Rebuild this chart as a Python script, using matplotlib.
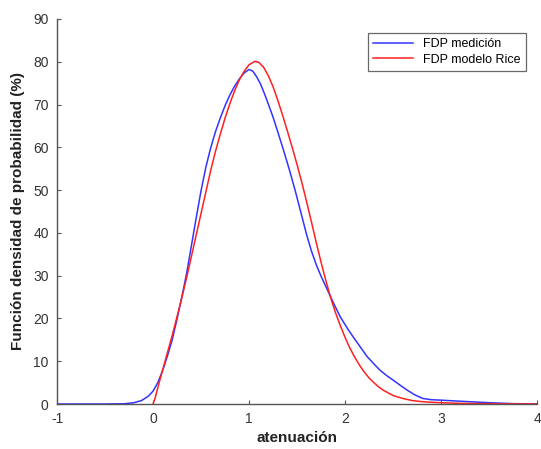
import matplotlib.pyplot as plt

plt.rcParams['font.family'] = ['Liberation Sans', 'DejaVu Sans']
plt.rcParams['axes.unicode_minus'] = False

# curva medida (lectura aproximada de la figura)
x_med = [-1.0, -0.5, -0.3, -0.2, -0.12, -0.05, 0.0, 0.05, 0.1, 0.15, 0.2, 0.25,
         0.3, 0.35, 0.4, 0.45, 0.5, 0.55, 0.6, 0.65, 0.7, 0.75, 0.8, 0.85, 0.9,
         0.95, 1.0, 1.04, 1.08, 1.12, 1.16, 1.2, 1.25, 1.3, 1.36, 1.42, 1.48,
         1.54, 1.6, 1.65, 1.7, 1.75, 1.81, 1.88, 1.95, 2.03, 2.1, 2.17, 2.23,
         2.3, 2.36, 2.43, 2.5, 2.58, 2.65, 2.73, 2.81, 2.9, 3.0, 3.2, 3.5, 3.75, 4.0]
y_med = [0, 0, 0.05, 0.3, 0.8, 1.8, 3.0, 5.0, 7.8, 11.2, 15.0, 19.8,
         25.0, 30.5, 37.0, 43.5, 49.8, 55.3, 59.8, 63.6, 66.8, 69.7, 72.2, 74.3, 76.0,
         77.4, 78.2, 77.8, 76.5, 74.8, 72.6, 70.2, 67.1, 63.6, 59.3, 54.8, 50.0,
         44.8, 39.6, 35.8, 32.6, 29.9, 27.0, 23.6, 20.4, 17.5, 15.2, 13.0, 11.1,
         9.4, 8.0, 6.7, 5.6, 4.3, 3.2, 2.1, 1.3, 1.0, 0.9, 0.65, 0.3, 0.08, 0]

# modelo Rice
x_rice = [0.0, 0.02, 0.05, 0.08, 0.11, 0.15, 0.2, 0.25, 0.3, 0.35, 0.4, 0.45,
          0.5, 0.55, 0.6, 0.65, 0.7, 0.75, 0.8, 0.85, 0.9, 0.95, 1.0, 1.06, 1.1,
          1.15, 1.2, 1.25, 1.3, 1.35, 1.4, 1.45, 1.5, 1.55, 1.6, 1.65, 1.7, 1.75,
          1.8, 1.85, 1.9, 1.95, 2.0, 2.05, 2.1, 2.15, 2.2, 2.25, 2.3, 2.35, 2.4,
          2.5, 2.6, 2.7, 2.8, 2.9, 3.0, 3.2, 3.5, 4.0]
y_rice = [0, 1.2, 3.8, 6.3, 8.7, 12.0, 16.0, 20.4, 24.8, 29.5, 34.5, 39.5,
          44.5, 49.5, 54.5, 59.0, 63.0, 66.8, 70.2, 73.2, 75.8, 77.8, 79.3, 80.1, 79.9,
          78.8, 76.8, 74.2, 71.0, 67.5, 63.8, 60.0, 56.0, 51.8, 47.3, 42.6, 37.8, 33.2,
          28.9, 24.9, 21.4, 18.4, 15.6, 13.1, 11.0, 9.1, 7.5, 6.1, 5.0, 4.0, 3.2,
          2.0, 1.3, 0.8, 0.55, 0.4, 0.3, 0.15, 0.05, 0]

xticks = [-1, 0, 1, 2, 3, 4]
yticks = list(range(0, 91, 10))

fig = plt.figure(figsize=(5.41, 4.49), dpi=100)
ax = fig.add_axes([57 / 541, 45 / 449, (537 - 57) / 541, (404 - 19) / 449])

ax.plot(x_med, y_med, color='#3333ff', lw=1.1, label='FDP medición')
ax.plot(x_rice, y_rice, color='#ff2020', lw=1.1, label='FDP modelo Rice')

ax.set_xlim(-1, 4)
ax.set_ylim(0, 90)
ax.set_xticks(xticks)
ax.set_yticks(yticks)
ax.tick_params(direction='in', length=3, color='#555555', labelcolor='#333333',
               labelsize=10, pad=6)

for s in ['top', 'right']:
    ax.spines[s].set_visible(False)
for s in ['left', 'bottom']:
    ax.spines[s].set_color('#555555')
    ax.spines[s].set_linewidth(1.0)

ax.set_xlabel('atenuación', fontsize=11, fontweight='bold', color='#222222', labelpad=3)
ax.set_ylabel('Función densidad de probabilidad (%)', fontsize=11,
              fontweight='bold', color='#222222', labelpad=6)

leg = ax.legend(loc='upper right', bbox_to_anchor=(0.99, 0.98), fontsize=9,
                frameon=True, fancybox=False, handlelength=3.2, borderpad=0.4,
                labelspacing=0.3)
leg.get_frame().set_edgecolor('#444444')
leg.get_frame().set_linewidth(0.9)

fig.savefig('out.png', dpi=100)
